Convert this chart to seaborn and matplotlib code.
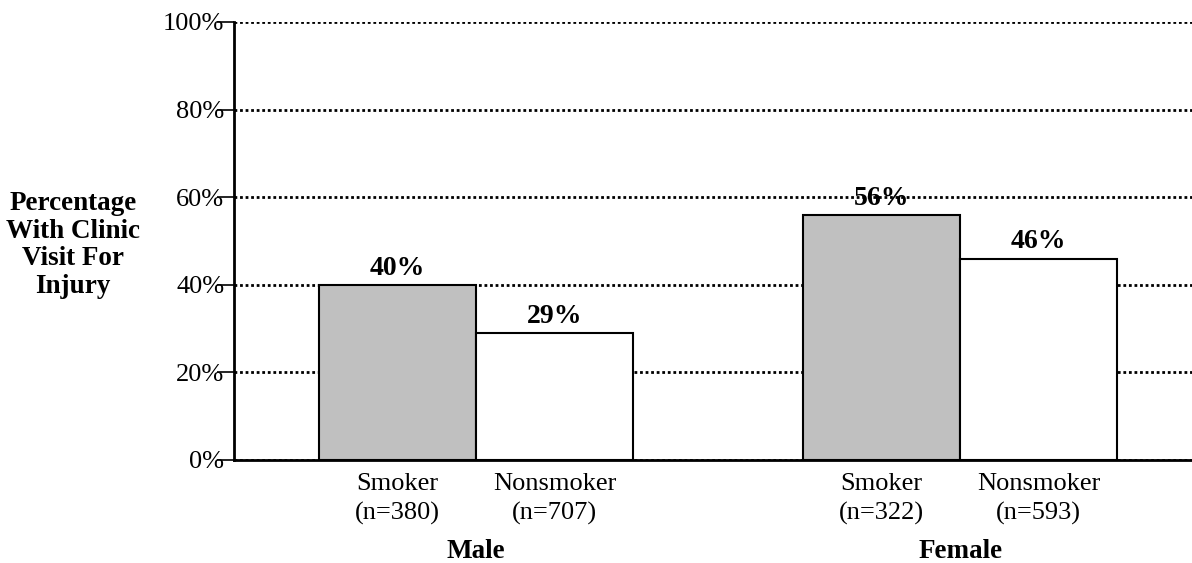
import matplotlib
matplotlib.use("Agg")
import matplotlib.pyplot as plt
import matplotlib.transforms as mtransforms
import pandas as pd
import seaborn as sns

sexes = ["Male", "Male", "Female", "Female"]
status = ["Smoker", "Nonsmoker", "Smoker", "Nonsmoker"]
counts = [380, 707, 322, 593]
pct = [40, 29, 56, 46]
y_ticks = [0, 20, 40, 60, 80, 100]
group_names = ["Male", "Female"]

df = pd.DataFrame({"sex": sexes, "status": status, "n": counts, "pct": pct})

sns.set_theme(style="white")
plt.rcParams["font.family"] = ["Liberation Serif", "DejaVu Serif"]

fig = plt.figure(figsize=(11.92, 5.63), dpi=100)
ax = fig.add_axes([234 / 1192, 1 - 460 / 563, 1 - 234 / 1192, (460 - 22) / 563])

sns.barplot(data=df, x="sex", y="pct", hue="status", order=group_names,
            hue_order=["Smoker", "Nonsmoker"], palette=["#c0c0c0", "white"],
            width=0.65, edgecolor="black", linewidth=1.5, legend=False,
            saturation=1, ax=ax, zorder=3)

ax.set_ylim(0, 100)
ax.set_xlim(-0.5, 1.479)
ax.set_yticks(y_ticks)
ax.set_yticklabels([f"{v}%" for v in y_ticks], fontsize=19)
ax.yaxis.grid(True, color="black", linestyle=(0, (1, 1)), linewidth=2, zorder=0)
ax.set_axisbelow(True)

for s in ["top", "right"]:
    ax.spines[s].set_visible(False)
for s in ["left", "bottom"]:
    ax.spines[s].set_color("black")
    ax.spines[s].set_linewidth(2)
    ax.spines[s].set_zorder(4)

ax.tick_params(axis="y", left=True, length=12, width=1.2, color="black", pad=-5,
               labelcolor="black")

# percentage labels above each bar
for cont in ax.containers:
    ax.bar_label(cont, fmt="%d%%", padding=3, fontsize=20, fontweight="bold",
                 color="black", zorder=5)

# one tick label per bar: status and sample size
centers, labels = [], []
for cont, st in zip(ax.containers, ["Smoker", "Nonsmoker"]):
    for bar, g in zip(cont, group_names):
        row = df[(df.sex == g) & (df.status == st)].iloc[0]
        centers.append(bar.get_x() + bar.get_width() / 2)
        labels.append(f"{st}\n(n={row.n})")
ax.set_xticks(centers)
ax.set_xticklabels(labels, fontsize=19, linespacing=1.4)
ax.tick_params(axis="x", bottom=False, pad=3, labelcolor="black")
ax.set_xlabel("")

trans = mtransforms.blended_transform_factory(ax.transData, ax.transAxes)
for i, g in enumerate(group_names):
    ax.text(i, -0.208, g, transform=trans, ha="center", va="center",
            fontsize=19.5, fontweight="bold", color="black")

ax.set_ylabel("")
fig.text(73 / 1192, 1 - 245 / 563, "Percentage\nWith Clinic\nVisit For\nInjury",
         ha="center", va="center", fontsize=19.5, fontweight="bold",
         linespacing=1.15, color="black")

fig.savefig("out.png", dpi=100)
